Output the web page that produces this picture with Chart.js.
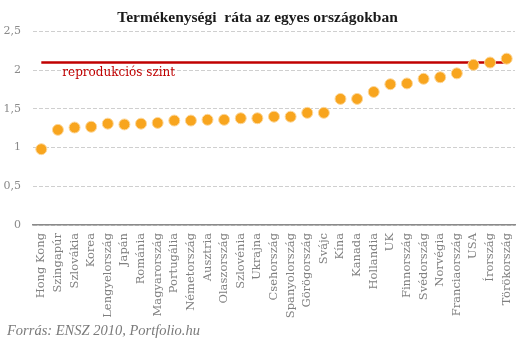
<!DOCTYPE html>
<html>
<head>
<meta charset="utf-8">
<script src="https://cdn.jsdelivr.net/npm/chart.js@4/dist/chart.umd.min.js"></script>
<style>
html,body{margin:0;padding:0;background:#fff;}
#wrap{width:531px;height:342px;position:relative;}
</style>
</head>
<body>
<div id="wrap"><canvas id="c" width="531" height="342"></canvas></div>
<script>
const titleText = 'Termékenységi  ráta az egyes országokban';
const sourceText = 'Forrás: ENSZ 2010, Portfolio.hu';
const lineLabel = 'reprodukciós szint';
const countries = ['Hong Kong','Szingapúr','Szlovákia','Korea','Lengyelország','Japán','Románia','Magyarország','Portugália','Németország','Ausztria','Olaszország','Szlovénia','Ukrajna','Csehország','Spanyolország','Görögország','Svájc','Kína','Kanada','Hollandia','UK','Finnország','Svédország','Norvégia','Franciaország','USA','Írország','Törökország'];
const fertility = [0.98,1.23,1.26,1.27,1.31,1.30,1.31,1.32,1.35,1.35,1.36,1.36,1.38,1.38,1.40,1.40,1.45,1.45,1.63,1.63,1.72,1.82,1.83,1.89,1.91,1.96,2.07,2.10,2.15];
const replacementLevel = 2.1;
const replacement = countries.map(() => replacementLevel);
const yTicks = [0, 0.5, 1, 1.5, 2, 2.5];

const SERIF = '"DejaVu Serif", "Liberation Serif", serif';
const SERIF2 = '"Liberation Serif", "DejaVu Serif", serif';

const textPlugin = {
  id: 'texts',
  afterDraw(chart) {
    const ctx = chart.ctx;
    const xs = chart.scales.x, ys = chart.scales.y;
    ctx.save();
    ctx.fillStyle = '#C00000';
    ctx.font = '12px ' + SERIF;
    ctx.textBaseline = 'middle';
    ctx.textAlign = 'left';
    ctx.fillText(lineLabel, xs.getPixelForValue(0) + 21, ys.getPixelForValue(replacementLevel) + 10);
    ctx.fillStyle = '#7a7a7a';
    ctx.font = 'italic 14.5px ' + SERIF2;
    ctx.textBaseline = 'alphabetic';
    ctx.fillText(sourceText, 7, chart.height - 7);
    ctx.restore();
  }
};

new Chart(document.getElementById('c'), {
  data: {
    labels: countries,
    datasets: [
      {
        type: 'line',
        label: 'Termékenységi ráta',
        data: fertility,
        showLine: false,
        pointRadius: 5.5,
        pointHoverRadius: 5.5,
        pointBackgroundColor: '#F8A51E',
        pointBorderColor: '#FCD79B',
        pointBorderWidth: 1,
        order: 0
      },
      {
        type: 'line',
        label: lineLabel,
        data: replacement,
        borderColor: '#C00000',
        borderWidth: 2.5,
        pointRadius: 0,
        fill: false,
        order: 1
      }
    ]
  },
  options: {
    responsive: false,
    animation: false,
    devicePixelRatio: 1,
    layout: { padding: { left: 0, right: 16, top: 0, bottom: 23 } },
    plugins: {
      legend: { display: false },
      tooltip: { enabled: false },
      title: {
        display: true,
        text: titleText,
        color: '#1a1a1a',
        font: { family: SERIF2, size: 15.5, weight: 'bold' },
        padding: { top: 9, bottom: 4 }
      }
    },
    scales: {
      x: {
        offset: true,
        grid: { display: false, drawTicks: false },
        border: { display: true, color: '#8a8a8a', width: 1.5 },
        ticks: {
          autoSkip: false,
          maxRotation: 90,
          minRotation: 90,
          padding: 8,
          color: '#808080',
          font: { family: SERIF, size: 11.5 }
        },
        afterFit(s) { s.height = 94; }
      },
      y: {
        min: 0,
        max: 2.5,
        afterBuildTicks(s) { s.ticks = yTicks.map(v => ({ value: v })); },
        grid: { color: '#cfcfcf', lineWidth: 1, drawTicks: false },
        border: { display: false, dash: [4, 2] },
        ticks: {
          padding: 12,
          color: '#8a8a8a',
          font: { family: SERIF, size: 11 },
          callback: v => String(v).replace('.', ',')
        },
        afterFit(s) { s.width = 33; }
      }
    }
  },
  plugins: [textPlugin]
});
</script>
</body>
</html>
